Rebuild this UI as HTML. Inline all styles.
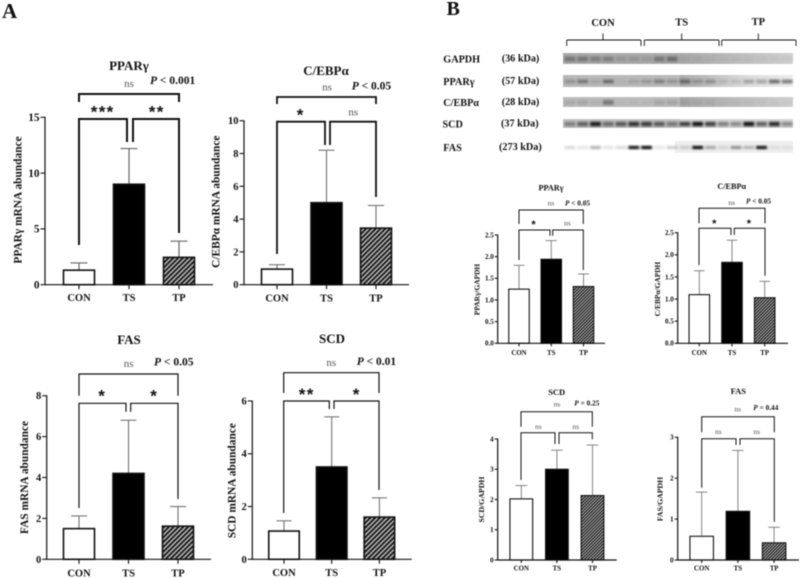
<!DOCTYPE html>
<html lang="en">
<head>
<meta charset="utf-8">
<title>mRNA and protein abundance charts</title>
<style>
html,body{margin:0;padding:0;background:#fff;width:800px;height:578px;overflow:hidden}
svg{display:block;filter:blur(0.45px)}
text{font-family:"Liberation Serif","Noto Serif CJK SC",serif;fill:#111}
</style>
</head>
<body>
<svg id="figure" width="800" height="578" viewBox="0 0 800 578" xmlns="http://www.w3.org/2000/svg">
<defs>
<pattern id="hatchLarge" width="3.4" height="3.4" patternUnits="userSpaceOnUse" patternTransform="rotate(45)">
<rect width="3.4" height="3.4" fill="#1c1c1c"></rect><rect width="1.4" height="3.4" fill="#c4c4c4"></rect>
</pattern>
<pattern id="hatchSmall" width="2.2" height="2.2" patternUnits="userSpaceOnUse" patternTransform="rotate(45)">
<rect width="2.2" height="2.2" fill="#222"></rect><rect width="0.9" height="2.2" fill="#b8b8b8"></rect>
</pattern>
<filter id="blotBlur" x="-5%" y="-30%" width="110%" height="160%"><feGaussianBlur stdDeviation="1.1"></feGaussianBlur></filter>
<linearGradient id="fadeRight" x1="0" x2="1" y1="0" y2="0"><stop offset="0" stop-color="#a8a8a8"></stop><stop offset="1" stop-color="#d0d0d0"></stop></linearGradient>
<linearGradient id="fadeRightStrong" x1="0" x2="1" y1="0" y2="0"><stop offset="0" stop-color="#a8a8a8"></stop><stop offset="0.6" stop-color="#dcdcdc"></stop><stop offset="1" stop-color="#ececec"></stop></linearGradient>
</defs>
</svg>
<script>
const groups = ['CON', 'TS', 'TP'];

const mrnaPparMeans = [1.3, 9.0, 2.45];
const mrnaPparErrors = [1.95, 12.2, 3.9];
const mrnaPparTicks = [0, 5, 10, 15];

const mrnaCebpMeans = [0.95, 5.0, 3.45];
const mrnaCebpErrors = [1.22, 8.2, 4.83];
const mrnaCebpTicks = [0, 2, 4, 6, 8, 10];

const mrnaFasMeans = [1.5, 4.2, 1.62];
const mrnaFasErrors = [2.12, 6.8, 2.58];
const mrnaFasTicks = [0, 2, 4, 6, 8];

const mrnaScdMeans = [1.07, 3.5, 1.6];
const mrnaScdErrors = [1.46, 5.4, 2.33];
const mrnaScdTicks = [0, 2, 4, 6];

const proteinPparMeans = [1.25, 1.94, 1.31];
const proteinPparErrors = [1.8, 2.37, 1.6];
const proteinPparTicks = ['0.0', '0.5', '1.0', '1.5', '2.0', '2.5'];

const proteinCebpMeans = [1.1, 1.83, 1.03];
const proteinCebpErrors = [1.64, 2.33, 1.4];
const proteinCebpTicks = ['0.0', '0.5', '1.0', '1.5', '2.0', '2.5'];

const proteinScdMeans = [2.02, 3.0, 2.13];
const proteinScdErrors = [2.46, 3.63, 3.8];
const proteinScdTicks = [0, 1, 2, 3, 4];

const proteinFasMeans = [0.58, 1.19, 0.42];
const proteinFasErrors = [1.66, 2.68, 0.8];
const proteinFasTicks = [0, 1, 2, 3];

const laneGapdh = [.3,.3,.25,.25,.12,.12,.1,.3,.35, .05,.05,.04,.03,.03,.03,.03,.03,.03];
const lanePpar = [.2,.35,.1,.4,.04,.12,.18,.3,.2, .4,.2,.25,.1,.1,.25,.25,.5,.45];
const laneCebp = [.1,.12,.06,.35,.03,.03,.04,.12,.12, .08,.06,.06,.03,.03,.03,.03,.03,.03];
const laneScd = [.35,.5,.85,.45,.55,.75,.7,.55,.4, .7,.9,.7,.4,.35,.9,.55,.8,.35];
const laneFas = [.15,.1,.3,.1,.15,.95,1,.1,.2, .15,1,.3,.12,.4,.25,.95,.08,.08];

const svg = document.getElementById('figure');
const NS = 'http://www.w3.org/2000/svg';

function el(tag, attrs, parent) {
  const node = document.createElementNS(NS, tag);
  for (const key in attrs) node.setAttribute(key, attrs[key]);
  (parent || svg).appendChild(node);
  return node;
}

function label(parent, name, str, x, y, size, opts) {
  const o = opts || {};
  const t = el('text', {x: x, y: y, 'font-size': size, 'font-weight': o.weight || 'bold', 'text-anchor': o.anchor || 'middle'}, parent);
  
  
  if (o.rotate) t.setAttribute('transform', 'rotate(-90 ' + x + ' ' + y + ')');
  if (o.fill) t.style.fill = o.fill;
  t.textContent = str;
  return t;
}

function pValue(parent, name, rest, x, y, size) {
  const t = el('text', {x: x, y: y, 'font-size': size, 'font-weight': 'bold'}, parent);
  
  
  const p = el('tspan', {'font-style': 'italic'}, t);
  p.textContent = 'P';
  const r = el('tspan', {}, t);
  r.textContent = ' ' + rest;
}

function stars(parent, str, x, yc, size) {
  const t = el('text', {x: x, y: yc + size * 0.5, 'font-size': size, 'font-weight': 'bold', 'text-anchor': 'middle', 'letter-spacing': size * 0.08}, parent);
  
  
  t.style.fontFamily = '"Liberation Sans",sans-serif';
  t.textContent = str;
}

function pathLine(parent, name, d, width) {
  const p = el('path', {d: d, fill: 'none', stroke: '#111', 'stroke-width': width}, parent);
  
  
}

function drawChart(c, means, errors, ticks, ymax) {
  const g = el('g', {});
  
  
  const yPos = v => c.y0 - (v / ymax) * (c.y0 - c.yTop);
  const xPos = i => c.x0 + i * c.step;
  const sw = c.strokeW;

  groups.forEach((name, i) => {
    const x = xPos(i);
    const errLine = el('line', {x1: x, x2: x, y1: yPos(means[i]), y2: yPos(errors[i]), stroke: '#666', 'stroke-width': c.errW}, g);
    
    
    const errCap = el('line', {x1: x - c.capW / 2, x2: x + c.capW / 2, y1: yPos(errors[i]), y2: yPos(errors[i]), stroke: '#666', 'stroke-width': c.errW}, g);
    
    
    const fill = i === 0 ? '#fff' : i === 1 ? '#000' : 'url(#' + c.hatch + ')';
    const bar = el('rect', {x: x - c.barW / 2, y: yPos(means[i]), width: c.barW, height: c.y0 - yPos(means[i]), fill: fill, stroke: '#111', 'stroke-width': sw}, g);
    
    
    const tick = el('line', {x1: x, x2: x, y1: c.y0, y2: c.y0 + c.tickLen, stroke: '#111', 'stroke-width': 1.1}, g);
    
    
    label(g, 'x-label-' + name.toLowerCase(), name, x, c.xLabelY, c.xFont);
  });

  const yAxis = el('line', {x1: c.axisX, x2: c.axisX, y1: c.yTop - 0.5, y2: c.y0 + 0.5, stroke: '#111', 'stroke-width': 1.2}, g);
  
  
  const xAxis = el('line', {x1: c.axisX, x2: c.axisEnd, y1: c.y0, y2: c.y0, stroke: '#111', 'stroke-width': 1.2}, g);
  
  

  ticks.forEach(tv => {
    const y = yPos(Number(tv));
    const tick = el('line', {x1: c.axisX - c.tickLen, x2: c.axisX, y1: y, y2: y, stroke: '#111', 'stroke-width': 1.1}, g);
    
    
    label(g, 'y-tick-label', String(tv), c.axisX - c.tickLen - 1, y + c.yFont * 0.33, c.yFont, {anchor: 'end'});
  });

  label(g, 'y-axis-title', c.yTitle, c.yTitleX, c.yTitleY, c.yTitleFont, {rotate: true});
  label(g, 'chart-title', c.title, c.titleX, c.titleY, c.titleFont);

  const b = c.br;
  pathLine(g, 'overall-bracket', 'M' + b.l + ' ' + b.topDrop + 'V' + b.top + 'H' + b.r + 'V' + b.topDrop, b.w);
  pathLine(g, 'left-bracket', 'M' + b.l + ' ' + b.leftEnd + 'V' + b.low + 'H' + b.midL + 'V' + b.midEnd, b.w);
  pathLine(g, 'right-bracket', 'M' + b.midR + ' ' + b.midEnd + 'V' + b.low + 'H' + b.r + 'V' + b.rightEnd, b.w);
  return g;
}

const gA1 = drawChart({name: 'ppar-mrna-chart', x0: 79, step: 50, barW: 31, capW: 17, y0: 284.7, yTop: 117.3, axisX: 45, axisEnd: 213, tickLen: 4.5, xLabelY: 301, xFont: 10.5, yFont: 11.3, hatch: 'hatchLarge', strokeW: 1.6, errW: 1.2,
  yTitle: 'PPARγ mRNA abundance', yTitleX: 21.5, yTitleY: 200, yTitleFont: 11.4, title: 'PPARγ', titleX: 129, titleY: 70, titleFont: 13,
  br: {l: 79, r: 179, top: 94, topDrop: 102, low: 119, midL: 127, midR: 133, midEnd: 142, leftEnd: 245, rightEnd: 233, w: 2}}, mrnaPparMeans, mrnaPparErrors, mrnaPparTicks, 15);
label(gA1, 'overall-ns-label', 'ns', 129, 87, 11, {weight: 'normal', fill: '#555'});
pValue(gA1, 'p-value', '< 0.001', 150, 84, 11.5);
stars(gA1, '***', 102.7, 109, 17);
stars(gA1, '**', 156.7, 109, 17);

const gA2 = drawChart({name: 'cebp-mrna-chart', x0: 277, step: 49.5, barW: 31, capW: 16, y0: 284.7, yTop: 120.7, axisX: 244, axisEnd: 409, tickLen: 4.5, xLabelY: 301.5, xFont: 10.5, yFont: 10.5, hatch: 'hatchLarge', strokeW: 1.6, errW: 1,
  yTitle: 'C/EBPα mRNA abundance', yTitleX: 219.5, yTitleY: 201.7, yTitleFont: 11.4, title: 'C/EBPα', titleX: 326, titleY: 75, titleFont: 13,
  br: {l: 277, r: 376, top: 97, topDrop: 104, low: 121.7, midL: 325, midR: 330, midEnd: 145, leftEnd: 254, rightEnd: 197, w: 1.8}}, mrnaCebpMeans, mrnaCebpErrors, mrnaCebpTicks, 10);
label(gA2, 'overall-ns-label', 'ns', 327, 90.7, 11, {weight: 'normal', fill: '#555'});
pValue(gA2, 'p-value', '< 0.05', 351.7, 89.3, 11.5);
stars(gA2, '*', 300.7, 112, 17);
label(gA2, 'pair-ns-label', 'ns', 353.3, 115.7, 11, {weight: 'normal', fill: '#555'});

const gA3 = drawChart({name: 'fas-mrna-chart', x0: 79, step: 49.5, barW: 31, capW: 16, y0: 559.3, yTop: 395.7, axisX: 46.7, axisEnd: 211, tickLen: 4.5, xLabelY: 576.7, xFont: 10.5, yFont: 10.5, hatch: 'hatchLarge', strokeW: 1.6, errW: 1,
  yTitle: 'FAS mRNA abundance', yTitleX: 28, yTitleY: 477.5, yTitleFont: 11.4, title: 'FAS', titleX: 129, titleY: 344, titleFont: 13,
  br: {l: 79, r: 178, top: 374, topDrop: 395.7, low: 403.3, midL: 126, midR: 130.7, midEnd: 411.7, leftEnd: 508, rightEnd: 499, w: 1.2}}, mrnaFasMeans, mrnaFasErrors, mrnaFasTicks, 8);
label(gA3, 'overall-ns-label', 'ns', 128.7, 367, 11, {weight: 'normal', fill: '#555'});
pValue(gA3, 'p-value', '< 0.05', 154, 365.7, 11.5);
stars(gA3, '*', 102.3, 393, 17);
stars(gA3, '*', 154.3, 393, 17);

const gA4 = drawChart({name: 'scd-mrna-chart', x0: 284, step: 47.7, barW: 30.5, capW: 15, y0: 559.3, yTop: 401, axisX: 252.3, axisEnd: 411.7, tickLen: 4.5, xLabelY: 576, xFont: 10.5, yFont: 10.5, hatch: 'hatchLarge', strokeW: 1.6, errW: 1,
  yTitle: 'SCD mRNA abundance', yTitleX: 235.5, yTitleY: 480.7, yTitleFont: 11.4, title: 'SCD', titleX: 332, titleY: 343, titleFont: 13,
  br: {l: 283.7, r: 379, top: 372.7, topDrop: 393, low: 401, midL: 329.3, midR: 334, midEnd: 409, leftEnd: 513, rightEnd: 490, w: 1.2}}, mrnaScdMeans, mrnaScdErrors, mrnaScdTicks, 6);
label(gA4, 'overall-ns-label', 'ns', 331.3, 366, 11, {weight: 'normal', fill: '#555'});
pValue(gA4, 'p-value', '< 0.01', 356.7, 365, 11.5);
stars(gA4, '**', 306.7, 391.7, 17);
stars(gA4, '*', 356.7, 391.7, 17);

const gB1 = drawChart({name: 'ppar-protein-chart', x0: 519, step: 32.25, barW: 20.5, capW: 11, y0: 343.3, yTop: 235, axisX: 497.7, axisEnd: 605, tickLen: 3, xLabelY: 355, xFont: 6.9, yFont: 7, hatch: 'hatchSmall', strokeW: 1.1, errW: 0.8,
  yTitle: 'PPARγ/GAPDH', yTitleX: 479.5, yTitleY: 289.5, yTitleFont: 7.4, title: 'PPARγ', titleX: 551, titleY: 190.3, titleFont: 8.2,
  br: {l: 519, r: 583.3, top: 210, topDrop: 224, low: 230, midL: 550, midR: 552.7, midEnd: 235.7, leftEnd: 260, rightEnd: 270, w: 1}}, proteinPparMeans, proteinPparErrors, proteinPparTicks, 2.5);
label(gB1, 'overall-ns-label', 'ns', 551, 205.7, 7.5, {weight: 'normal', fill: '#555'});
pValue(gB1, 'p-value', '< 0.05', 565, 205.7, 7.3);
stars(gB1, '*', 534, 222.7, 11);
label(gB1, 'pair-ns-label', 'ns', 567.3, 225.7, 7.5, {weight: 'normal', fill: '#555'});

const gB2 = drawChart({name: 'cebp-protein-chart', x0: 699.3, step: 32.7, barW: 20.5, capW: 10.5, y0: 343.3, yTop: 232.7, axisX: 677.7, axisEnd: 788, tickLen: 3, xLabelY: 355, xFont: 6.9, yFont: 7, hatch: 'hatchSmall', strokeW: 1.1, errW: 0.8,
  yTitle: 'C/EBPα/GAPDH', yTitleX: 660, yTitleY: 289, yTitleFont: 7.4, title: 'C/EBPα', titleX: 731.7, titleY: 189, titleFont: 8.2,
  br: {l: 699, r: 765, top: 208.3, topDrop: 223.3, low: 228.3, midL: 731, midR: 734.3, midEnd: 235, leftEnd: 265, rightEnd: 275.7, w: 1}}, proteinCebpMeans, proteinCebpErrors, proteinCebpTicks, 2.5);
label(gB2, 'overall-ns-label', 'ns', 731.7, 205, 7.5, {weight: 'normal', fill: '#555'});
pValue(gB2, 'p-value', '< 0.05', 746, 203.3, 7.3);
stars(gB2, '*', 714.7, 221.7, 11);
stars(gB2, '*', 749.3, 221.7, 11);

const gB3 = drawChart({name: 'scd-protein-chart', x0: 521.3, step: 35.6, barW: 22.7, capW: 11.5, y0: 560, yTop: 439, axisX: 497.7, axisEnd: 616.7, tickLen: 3, xLabelY: 570.5, xFont: 6.9, yFont: 7.3, hatch: 'hatchSmall', strokeW: 1.1, errW: 0.8,
  yTitle: 'SCD/GAPDH', yTitleX: 484, yTitleY: 499.5, yTitleFont: 7.8, title: 'SCD', titleX: 556.7, titleY: 395, titleFont: 8.5,
  br: {l: 521, r: 592.3, top: 411.7, topDrop: 426.7, low: 432.7, midL: 555, midR: 559, midEnd: 444, leftEnd: 480, rightEnd: 439.3, w: 1}}, proteinScdMeans, proteinScdErrors, proteinScdTicks, 4);
label(gB3, 'overall-ns-label', 'ns', 557, 406.7, 7.5, {weight: 'normal', fill: '#555'});
pValue(gB3, 'p-value', '= 0.25', 574.3, 405.7, 7.3);
label(gB3, 'pair-ns-label', 'ns', 538.3, 429, 7.5, {weight: 'normal', fill: '#555'});
label(gB3, 'pair-ns-label', 'ns', 575.7, 429, 7.5, {weight: 'normal', fill: '#555'});

const gB4 = drawChart({name: 'fas-protein-chart', x0: 701.7, step: 36.2, barW: 23.5, capW: 11.5, y0: 560, yTop: 437.3, axisX: 677.7, axisEnd: 799, tickLen: 3, xLabelY: 570.5, xFont: 6.9, yFont: 7.3, hatch: 'hatchSmall', strokeW: 1.1, errW: 0.8,
  yTitle: 'FAS/GAPDH', yTitleX: 662.5, yTitleY: 499, yTitleFont: 7.8, title: 'FAS', titleX: 738.3, titleY: 394, titleFont: 8.5,
  br: {l: 701.7, r: 774.3, top: 416.7, topDrop: 432.3, low: 438.7, midL: 736, midR: 740, midEnd: 445, leftEnd: 487.7, rightEnd: 521.7, w: 1}}, proteinFasMeans, proteinFasErrors, proteinFasTicks, 3);
label(gB4, 'overall-ns-label', 'ns', 737.7, 411.7, 7.5, {weight: 'normal', fill: '#555'});
pValue(gB4, 'p-value', '= 0.44', 753.3, 410, 7.3);
label(gB4, 'pair-ns-label', 'ns', 718.3, 434, 7.5, {weight: 'normal', fill: '#555'});
label(gB4, 'pair-ns-label', 'ns', 756.7, 434, 7.5, {weight: 'normal', fill: '#555'});

label(svg, 'panel-a-label', 'A', 2, 18, 21, {anchor: 'start'});
label(svg, 'panel-b-label', 'B', 446.5, 15, 20, {anchor: 'start'});

const blotGroup = el('g', {});



function drawBlot(name, display, kda, kdaX, nameX, lanes, y, h, leftFill, rightFill, splitX, bandH) {
  const row = el('g', {}, blotGroup);
  
  
  label(row, 'protein-label', display, nameX, y + h / 2 + 3.8, 10.2, {anchor: 'start'});
  label(row, 'kda-label', kda, kdaX, y + h / 2 + 3.2, 10.2, {anchor: 'start'});
  const inner = el('g', {}, row);
  el('rect', {x: 563, y: y, width: splitX - 563, height: h, fill: leftFill}, inner);
  el('rect', {x: splitX, y: y, width: 793 - splitX, height: h, fill: rightFill}, inner);
  const bands = el('g', {filter: 'url(#blotBlur)'}, inner);
  const laneW = 230 / lanes.length;
  lanes.forEach((v, i) => {
    const band = el('rect', {x: 563.5 + i * laneW + 1, y: y + h / 2 - bandH / 2 + 0.5, width: laneW - 2, height: bandH, fill: '#000', opacity: v}, bands);
    
    
  });
}

drawBlot('gapdh', 'GAPDH', '(36 kDa)', 501.7, 443.3, laneGapdh, 53, 11, '#aaa', 'url(#fadeRight)', 680, 5);
drawBlot('ppar', 'PPARγ', '(57 kDa)', 501.7, 443.3, lanePpar, 75, 12, '#b8b8b8', 'url(#fadeRightStrong)', 680, 4);
drawBlot('cebp', 'C/EBPα', '(28 kDa)', 501.7, 443.3, laneCebp, 97, 10, '#bcbcbc', 'url(#fadeRight)', 680, 5);
drawBlot('scd', 'SCD', '(37 kDa)', 501, 442.5, laneScd, 119, 9, '#c4c4c4', '#d8d8d8', 680, 4.5);
drawBlot('fas', 'FAS', '(273 kDa)', 499, 443.3, laneFas, 141, 12, '#fff', '#eeeeee', 675, 3.2);

function groupBrace(name, text, l, r, mid, labelY) {
  const g = el('g', {}, blotGroup);
  
  
  pathLine(g, 'lane-group-brace', 'M' + l + ' 46V41Q' + l + ' 40 ' + (l + 1) + ' 40H' + (r - 1) + 'Q' + r + ' 40 ' + r + ' 41V46M' + mid + ' 40V33.5', 0.9);
  label(g, 'lane-group-label', text, mid, labelY, 10.5);
}
groupBrace('con', 'CON', 566.7, 641, 603, 26);
groupBrace('ts', 'TS', 644.3, 719, 681.7, 25.5);
groupBrace('tp', 'TP', 721.7, 796, 758.3, 25);
</script>
</body>
</html>
